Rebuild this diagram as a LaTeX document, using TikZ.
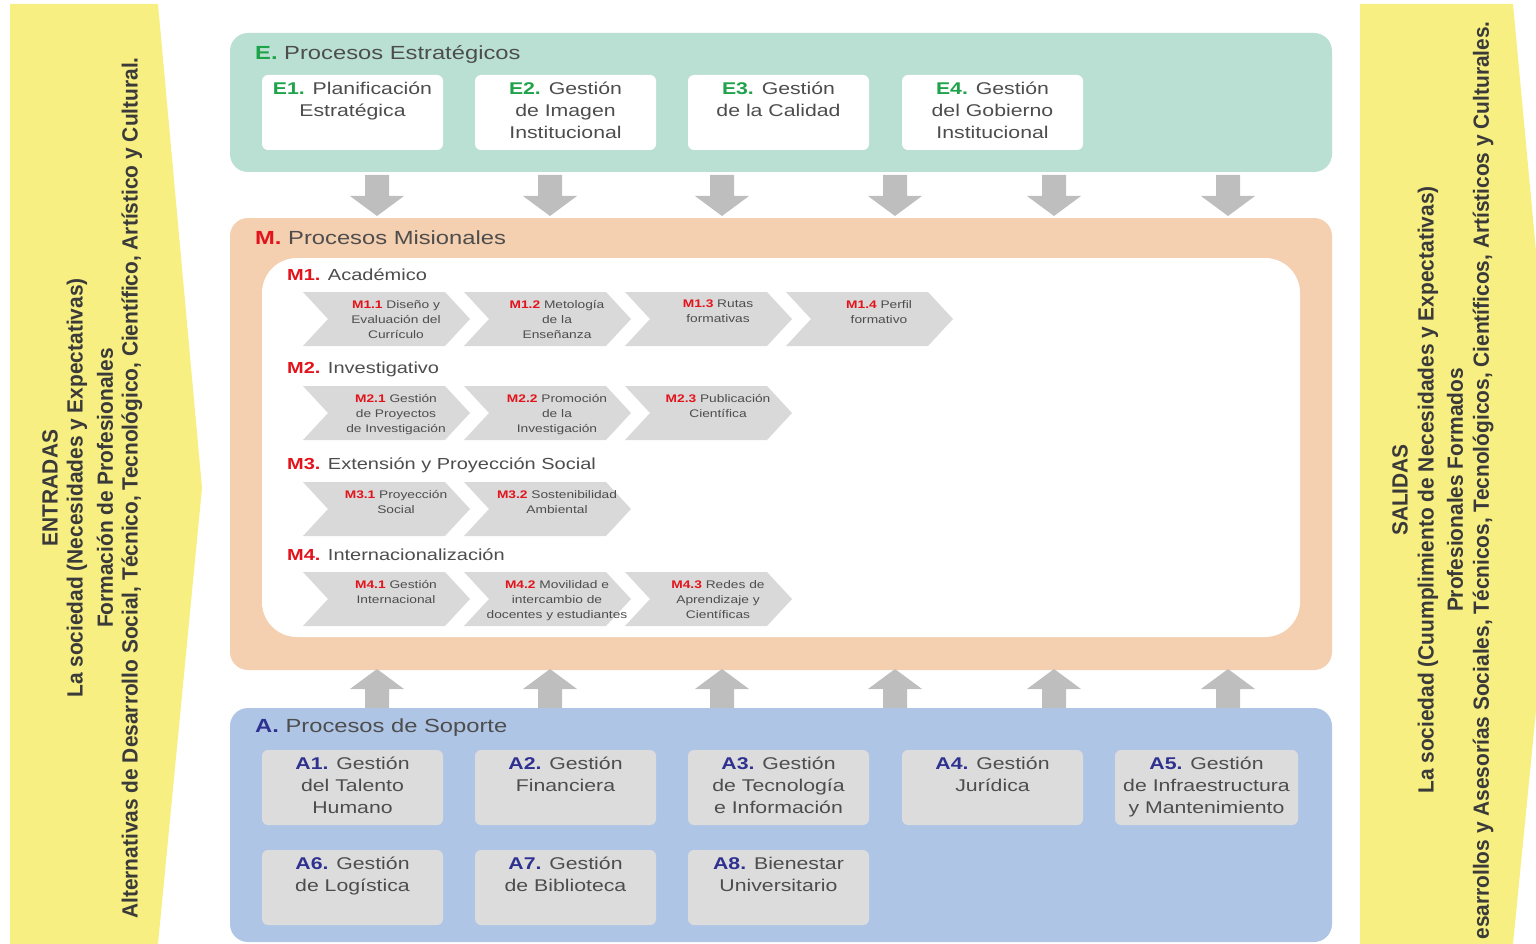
\documentclass[tikz,border=0pt]{standalone}
\usepackage{fontspec}
\setmainfont{Liberation Sans}[FakeStretch=1.25]
\newfontfamily\sidefont{Liberation Sans}[FakeStretch=0.95]
\usetikzlibrary{calc}
\definecolor{yel}{HTML}{F8EF82}
\definecolor{tealp}{HTML}{B9E0D3}
\definecolor{peach}{HTML}{F4CFB0}
\definecolor{bluep}{HTML}{AFC5E5}
\definecolor{arrg}{HTML}{BEBEBE}
\definecolor{chevg}{HTML}{D9D9D9}
\definecolor{aboxg}{HTML}{DCDCDC}
\definecolor{tgreen}{HTML}{1FA34A}
\definecolor{tred}{HTML}{E3131B}
\definecolor{tnavy}{HTML}{2E318F}
\definecolor{txt}{HTML}{4D4D4D}
\definecolor{sidetxt}{HTML}{3A3A3A}
\newcommand\chev[5]{%
  \fill[chevg] (#2,#3) -- ++(142,0) -- ++(25,27) -- ++(-25,27) -- ++(-142,0) -- ++(25,-27) -- cycle;
  \node[ctext,anchor=north] (#1) at (#2+93,#3+8) {\textcolor{tred}{\bfseries #4} #5};
}
\begin{document}
\begin{tikzpicture}[x=1pt,y=-1pt,
  panel/.style={rectangle, rounded corners=18pt, inner sep=0pt, draw=none},
  ebox/.style={rectangle, rounded corners=6pt, fill=white, minimum width=181pt, minimum height=75pt, inner sep=0pt},
  abox/.style={rectangle, rounded corners=6pt, fill=aboxg, minimum width=181pt, minimum height=75pt, inner sep=0pt},
  btxt/.style={anchor=north, align=center, inner sep=0pt, font=\fontsize{17}{22}\selectfont, text=txt},
  ttl/.style={anchor=west, inner sep=0pt, font=\fontsize{19}{24}\selectfont, text=txt},
  mlab/.style={anchor=west, inner sep=0pt, font=\fontsize{16}{20}\selectfont, text=txt},
  ctext/.style={align=center, inner sep=0pt, font=\fontsize{11}{15}\selectfont, text=txt},
  side/.style={rotate=90, inner sep=0pt, font=\sidefont\bfseries\fontsize{22}{26}\selectfont, text=sidetxt},
  blockarrow/.style={fill=arrg}
]
\useasboundingbox (0,0) rectangle (1536,944);
\clip (0,0) rectangle (1536,944);

% side arrows
\fill[yel] (10,4) -- (158,4) -- (202,488) -- (158,944) -- (10,944) -- cycle;
\fill[yel] (1360,4) -- (1513,4) -- (1558,488) -- (1513,944) -- (1360,944) -- cycle;

\node[side] (in1) at (50,488) {ENTRADAS};
\node[side] (in2) at (77,488) {La sociedad (Necesidades y Expectativas)};
\node[side] (in3) at (105,488) {Formación de Profesionales};
\node[side] (in4) at (132,488) {Alternativas de Desarrollo Social, Técnico, Tecnológico, Científico, Artístico y Cultural.};

\node[side] (out1) at (1400,490) {SALIDAS};
\node[side] (out2) at (1428,490) {La sociedad (Cuumplimiento de Necesidades y Expectativas)};
\node[side] (out3) at (1455,490) {Profesionales Formados};
\node[side, anchor=east] (out4) at (1483,21) {esarrollos y Asesorías Sociales, Técnicos, Tecnológicos, Científicos, Artísticos y Culturales.};

% panels
\node[panel, fill=tealp, minimum width=1102pt, minimum height=139pt] (E) at (781,102.5) {};
\node[panel, fill=peach, minimum width=1102pt, minimum height=452pt] (M) at (781,444) {};
\node[rectangle, rounded corners=35pt, fill=white, minimum width=1038pt, minimum height=379pt, inner sep=0pt] (Min) at (781,447.5) {};
\node[panel, fill=bluep, minimum width=1102pt, minimum height=234pt] (A) at (781,825) {};

% titles
\node[ttl] (Et) at (255,54) {\textcolor{tgreen}{\bfseries E.} Procesos Estratégicos};
\node[ttl] (Mt) at (255,238) {\textcolor{tred}{\bfseries M.} Procesos Misionales};
\node[ttl] (At) at (255,728) {\textcolor{tnavy}{\bfseries A.} Procesos de Soporte};

% E boxes
\node[ebox] (E1) at (352.5,112.5) {};
\node[ebox] (E2) at (565.5,112.5) {};
\node[ebox] (E3) at (778.5,112.5) {};
\node[ebox] (E4) at (992.5,112.5) {};
\node[btxt] (E1t) at ($(E1.north)+(0,7)$) {\textcolor{tgreen}{\bfseries E1.} Planificación\\Estratégica};
\node[btxt] (E2t) at ($(E2.north)+(0,7)$) {\textcolor{tgreen}{\bfseries E2.} Gestión\\de Imagen\\Institucional};
\node[btxt] (E3t) at ($(E3.north)+(0,7)$) {\textcolor{tgreen}{\bfseries E3.} Gestión\\de la Calidad};
\node[btxt] (E4t) at ($(E4.north)+(0,7)$) {\textcolor{tgreen}{\bfseries E4.} Gestión\\del Gobierno\\Institucional};

% arrows
\foreach \x in {377,550,722,895,1054,1228} {
  \fill[blockarrow] ({\x-12},175) -- ({\x+12},175) -- ({\x+12},196) -- ({\x+27},196) -- (\x,216) -- ({\x-27},196) -- ({\x-12},196) -- cycle;
  \fill[blockarrow] ({\x-12},708) -- ({\x+12},708) -- ({\x+12},689) -- ({\x+27},689) -- (\x,669) -- ({\x-27},689) -- ({\x-12},689) -- cycle;
}

% M labels
\node[mlab] (M1) at (287,275) {\textcolor{tred}{\bfseries M1.} Académico};
\node[mlab] (M2) at (287,369) {\textcolor{tred}{\bfseries M2.} Investigativo};
\node[mlab] (M3) at (287,465) {\textcolor{tred}{\bfseries M3.} Extensión y Proyección Social};
\node[mlab] (M4) at (287,555) {\textcolor{tred}{\bfseries M4.} Internacionalización};

% chevrons
\chev{m11}{303}{292}{M1.1}{Diseño y\\Evaluación del\\Currículo}
\chev{m12}{464}{292}{M1.2}{Metología\\de la\\Enseñanza}
\chev{m13}{625}{292}{M1.3}{Rutas\\formativas}
\chev{m14}{786}{292}{M1.4}{Perfil\\formativo}

\chev{m21}{303}{386}{M2.1}{Gestión\\de Proyectos\\de Investigación}
\chev{m22}{464}{386}{M2.2}{Promoción\\de la\\Investigación}
\chev{m23}{625}{386}{M2.3}{Publicación\\Científica}

\chev{m31}{303}{482}{M3.1}{Proyección\\Social}
\chev{m32}{464}{482}{M3.2}{Sostenibilidad\\Ambiental}

\chev{m41}{303}{572}{M4.1}{Gestión\\Internacional}
\chev{m42}{464}{572}{M4.2}{Movilidad e\\intercambio de\\docentes y estudiantes}
\chev{m43}{625}{572}{M4.3}{Redes de\\Aprendizaje y\\Científicas}

% A boxes
\node[abox] (A1) at (352.5,787.5) {};
\node[abox] (A2) at (565.5,787.5) {};
\node[abox] (A3) at (778.5,787.5) {};
\node[abox] (A4) at (992.5,787.5) {};
\node[abox, minimum width=183pt] (A5) at (1206.5,787.5) {};
\node[abox] (A6) at (352.5,887.5) {};
\node[abox] (A7) at (565.5,887.5) {};
\node[abox] (A8) at (778.5,887.5) {};
\node[btxt] (A1t) at ($(A1.north)+(0,7)$) {\textcolor{tnavy}{\bfseries A1.} Gestión\\del Talento\\Humano};
\node[btxt] (A2t) at ($(A2.north)+(0,7)$) {\textcolor{tnavy}{\bfseries A2.} Gestión\\Financiera};
\node[btxt] (A3t) at ($(A3.north)+(0,7)$) {\textcolor{tnavy}{\bfseries A3.} Gestión\\de Tecnología\\e Información};
\node[btxt] (A4t) at ($(A4.north)+(0,7)$) {\textcolor{tnavy}{\bfseries A4.} Gestión\\Jurídica};
\node[btxt] (A5t) at ($(A5.north)+(0,7)$) {\textcolor{tnavy}{\bfseries A5.} Gestión\\de Infraestructura\\y Mantenimiento};
\node[btxt] (A6t) at ($(A6.north)+(0,7)$) {\textcolor{tnavy}{\bfseries A6.} Gestión\\de Logística};
\node[btxt] (A7t) at ($(A7.north)+(0,7)$) {\textcolor{tnavy}{\bfseries A7.} Gestión\\de Biblioteca};
\node[btxt] (A8t) at ($(A8.north)+(0,7)$) {\textcolor{tnavy}{\bfseries A8.} Bienestar\\Universitario};
\end{tikzpicture}
\end{document}
